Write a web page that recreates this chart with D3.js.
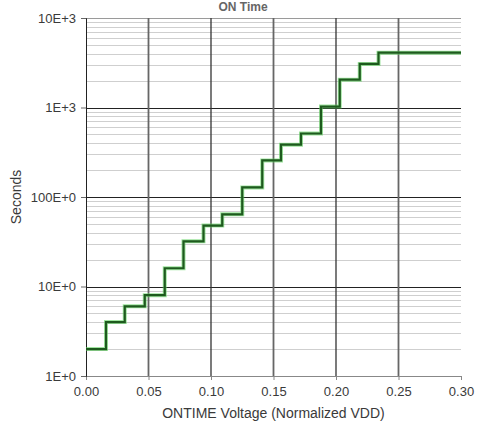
<!DOCTYPE html>
<html>
<head>
<meta charset="utf-8">
<script src="https://cdn.jsdelivr.net/npm/d3@7"></script>
<style>
  body { margin: 0; background: #fff; }
  svg { display: block; font-family: "Liberation Sans", Arial, sans-serif; }
</style>
</head>
<body>
<div id="chart"></div>
<script>
// step edges (normalized VDD) and the level held after each edge (seconds)
var stepVoltage = [0.000, 0.016, 0.031, 0.047, 0.063, 0.078, 0.094, 0.109, 0.125, 0.141, 0.156, 0.172, 0.188, 0.203, 0.219, 0.234, 0.300]
var stepSeconds = [2, 4, 6, 8, 16, 32, 48, 64, 128, 256, 384, 512, 1024, 2048, 3072, 4096, 4096]

var xTicks = [0.00, 0.05, 0.10, 0.15, 0.20, 0.25, 0.30]
var yTicks = [1, 10, 100, 1000, 10000]
var yTickLabels = ["1E+0", "10E+0", "100E+0", "1E+3", "10E+3"]

var svgWidth = 477
var svgHeight = 426

var chartMargin = {
    top: 18,
    right: 15,
    bottom: 50,
    left: 86
}
var chartWidth = 461 - chartMargin.left
var chartHeight = 376 - chartMargin.top

var svg = d3.select("#chart")
    .append("svg")
    .attr("width", svgWidth)
    .attr("height", svgHeight)

var chartGroup = svg.append("g")
    .attr("transform", `translate(${chartMargin.left},${chartMargin.top})`)

var xScale = d3.scaleLinear()
    .domain([0, 0.30])
    .range([0, chartWidth])
var yScale = d3.scaleLog()
    .domain([1, 10000])
    .range([chartHeight, 0])

// minor horizontal grid (2..9 of each decade)
var minor = []
for (var dec = 1; dec < 10000; dec *= 10) {
    for (var m = 2; m <= 9; m++) minor.push(dec * m)
}
chartGroup.selectAll(".minor")
    .data(minor)
    .enter()
    .append("line")
    .attr("x1", 0)
    .attr("x2", chartWidth)
    .attr("y1", d => Math.round(yScale(d)) + 0.5)
    .attr("y2", d => Math.round(yScale(d)) + 0.5)
    .attr("stroke", "#cfcfcf")
    .attr("stroke-width", 1)

// major horizontal grid
chartGroup.selectAll(".major")
    .data(yTicks)
    .enter()
    .append("line")
    .attr("x1", 0)
    .attr("x2", chartWidth)
    .attr("y1", d => Math.round(yScale(d)) + 0.5)
    .attr("y2", d => Math.round(yScale(d)) + 0.5)
    .attr("stroke", (d, i) => (i === 0 || i === yTicks.length - 1) ? "#9a9a9a" : "#222")
    .attr("stroke-width", 1)

// vertical grid
chartGroup.selectAll(".vgrid")
    .data(xTicks.slice(1, -1))
    .enter()
    .append("line")
    .attr("x1", d => xScale(d))
    .attr("x2", d => xScale(d))
    .attr("y1", 0)
    .attr("y2", chartHeight)
    .attr("stroke", (d, i) => i % 2 === 0 ? "#666" : "#333")
    .attr("stroke-width", (d, i) => i % 2 === 0 ? 1.8 : 1.3)

// axes
var bottomAxis = d3.axisBottom(xScale)
    .tickValues(xTicks)
    .tickFormat(d3.format(".2f"))
    .tickSize(4)
    .tickPadding(7)
var leftAxis = d3.axisLeft(yScale)
    .tickValues(yTicks)
    .tickFormat((d, i) => yTickLabels[i])
    .tickSize(5)
    .tickPadding(5)

var xAxis = chartGroup.append("g")
    .attr("transform", `translate(0,${chartHeight})`)
    .call(bottomAxis)
xAxis.select(".domain").attr("stroke", "#888")
xAxis.selectAll(".tick line").attr("stroke", "#888")

var yAxis = chartGroup.append("g")
    .call(leftAxis)
yAxis.select(".domain").attr("stroke", "#222")
yAxis.selectAll(".tick line").attr("stroke", "#666")

svg.selectAll(".tick text")
    .attr("font-size", "13px")
    .attr("fill", "#3a3a3a")

// step line
var line = d3.line()
    .x(d => xScale(d[0]))
    .y(d => yScale(d[1]))
    .curve(d3.curveStepAfter)
var pts = stepVoltage.map((v, i) => [v, stepSeconds[i]])

chartGroup.append("path")
    .datum(pts)
    .attr("d", line)
    .attr("fill", "none")
    .attr("stroke", "#5fd35f")
    .attr("stroke-width", 4)
    .attr("opacity", 0.6)
chartGroup.append("path")
    .datum(pts)
    .attr("d", line)
    .attr("fill", "none")
    .attr("stroke", "#1e5a1e")
    .attr("stroke-width", 2.2)

// labels
svg.append("text")
    .attr("x", 243)
    .attr("y", 11)
    .attr("text-anchor", "middle")
    .attr("font-size", "12px")
    .attr("font-weight", "bold")
    .attr("fill", "#666")
    .text("ON Time")

svg.append("text")
    .attr("x", chartMargin.left + chartWidth / 2)
    .attr("y", 418)
    .attr("text-anchor", "middle")
    .attr("font-size", "14px")
    .attr("fill", "#3a3a3a")
    .text("ONTIME Voltage (Normalized VDD)")

svg.append("text")
    .attr("transform", "translate(21,197) rotate(-90)")
    .attr("text-anchor", "middle")
    .attr("font-size", "14px")
    .attr("fill", "#3a3a3a")
    .text("Seconds")
</script>
</body>
</html>
